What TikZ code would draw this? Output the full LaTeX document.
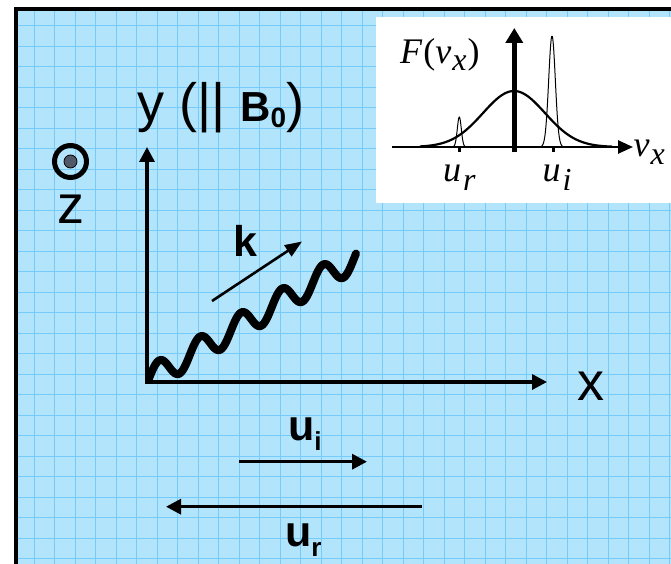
\documentclass[tikz,border=0pt]{standalone}
\usepackage{fontspec}
\usetikzlibrary{arrows.meta,positioning}
\newfontfamily\arial{Liberation Sans}
\newfontfamily\tms{Liberation Serif}
\definecolor{sky}{RGB}{178,228,252}
\definecolor{gridblue}{RGB}{118,203,250}
\definecolor{dotgray}{RGB}{80,88,106}
\tikzset{
  axis/.style={line width=3.4pt},
  karr/.style={-{Triangle[length=17pt,width=13pt]},line width=2.6pt},
  uarr/.style={-{Triangle[length=15pt,width=15pt]},line width=3.3pt},
  gline/.style={gridblue,line width=1.2pt},
  wave/.style={line width=8pt,line cap=round,line join=round},
  big/.style={font=\arial\fontsize{54}{60}\selectfont,inner sep=0pt,anchor=base west},
  bold/.style={font=\arial\bfseries\fontsize{43}{48}\selectfont,inner sep=0pt,anchor=base west},
  ital/.style={font=\tms\fontsize{36}{40}\selectfont,inner sep=0pt,anchor=base west},
  fcurve/.style={line width=2.2pt,smooth},
  spike/.style={line width=1pt,smooth}
}
\newcommand\dn[3]{\raisebox{-#1}{\fontsize{#2}{#2}\selectfont #3}}
\begin{document}
\begin{tikzpicture}[x=1pt,y=-1pt]
  \useasboundingbox (0,0) rectangle (671,564);
  \fill[white] (0,0) rectangle (671,564);
  % graph paper
  \fill[sky] (15.8,9) rectangle (671,564);
  \foreach \i in {0,...,31}
    \draw[gline] ({34.3+20.5*\i},9) -- ({34.3+20.5*\i},564);
  \foreach \j in {0,...,26}
    \draw[gline] (15.8,{25.7+20.5*\j}) -- (671,{25.7+20.5*\j});
  \draw[line width=3.8pt] (15.8,564) -- (15.8,9) -- (671,9);

  % inset: distribution function
  \fill[white] (376,17) rectangle (671,203);
  \coordinate (h0) at (392,147);
  \coordinate (h1) at (633,147);
  \coordinate (v0) at (514.3,152.5);
  \coordinate (v1) at (514.3,28);
  \draw[-{Triangle[length=15pt,width=13pt]},line width=2.6pt] (h0) -- (h1);
  \draw[fcurve] plot[domain=420:612,samples=90] (\x,{147-56*exp(-((\x-514)^2)/1922)});
  \draw[spike] plot[domain=541.5:562.5,samples=40] (\x,{147-111*exp(-((\x-552)^2)/22)});
  \draw[spike] plot[domain=453.5:465,samples=30] (\x,{147-30*exp(-((\x-459.3)^2)/8)});
  \draw[-{Triangle[length=15pt,width=17pt]},line width=5pt] (v0) -- (v1);
  \foreach \t in {459.3,553}
    \draw[line width=3pt] (\t,147) -- (\t,152.5);
  \node[ital] (Flab) at (400,64) {\textit{F}\kern1pt(\textit{v}\kern1pt\dn{7pt}{32}{\textit{x}}\kern1pt)};
  \node[ital] (urlab) at (443,181.7) {\textit{u}\kern2pt\dn{9pt}{32}{\textit{r}}};
  \node[ital] (uilab) at (542.5,181.7) {\textit{u}\kern2pt\dn{9pt}{32}{\textit{i}}};
  \node[ital] (vxlab) at (633.5,156.7) {\textit{v}\kern1pt\dn{8pt}{32}{\textit{x}}};

  % out-of-plane z
  \draw[line width=5pt] (70.5,161.5) circle (16);
  \fill[dotgray] (70.5,161.5) circle (6.5);
  \draw[line width=0.8pt] (70.5,161.5) circle (6.5);
  \node[big] (zlab) at (57,223) {z};

  % axes
  \coordinate (O) at (147,382);
  \coordinate (ytip) at (147,147);
  \coordinate (xtip) at (547,382);
  \draw[axis,{Triangle[length=15pt,width=15pt]}-{Triangle[length=15pt,width=15pt]}] (ytip) -- (O) -- (xtip);
  \node[big] (ylab) at (137,122) {y (|| {\bfseries\fontsize{42}{48}\selectfont B\dn{6pt}{28}{0}})};
  \node[big] (xlab) at (577,400) {x};

  % wave and k
  \draw[wave] plot[domain=149:356,samples=220] (\x,{367.5-0.585*(\x-168.5)-12.5*sin(8.7805*(\x-148.75))});
  \coordinate (k0) at (212,301);
  \coordinate (k1) at (302,241.5);
  \draw[karr] (k0) -- (k1);
  \node[bold] (klab) at (233,256) {k};

  % beam velocities
  \coordinate (ui0) at (239,461.7);
  \coordinate (ui1) at (367,461.7);
  \coordinate (ur0) at (421.7,506.7);
  \coordinate (ur1) at (166,506.7);
  \draw[uarr] (ui0) -- (ui1);
  \draw[uarr] (ur0) -- (ur1);
  \node[bold] (uilab2) at (288,440) {u\dn{10pt}{26}{i}};
  \node[bold] (urlab2) at (285,546.7) {u\dn{10pt}{26}{r}};
\end{tikzpicture}
\end{document}
